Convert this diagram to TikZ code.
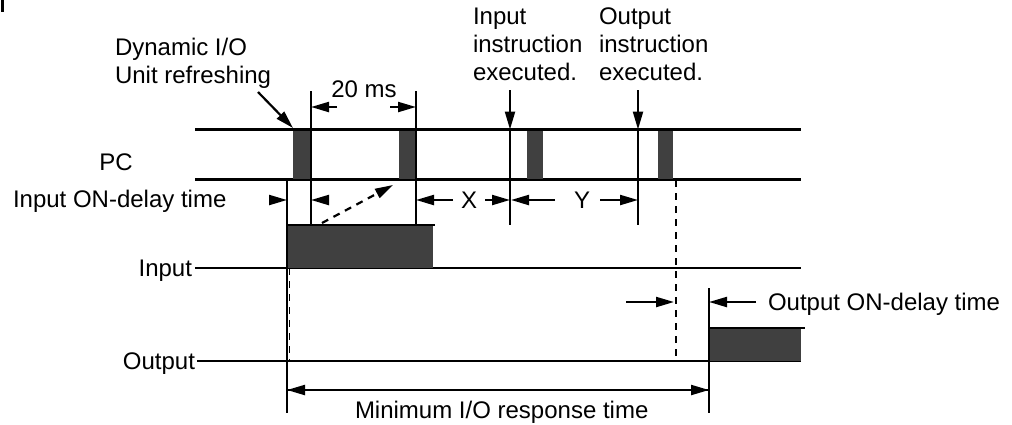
\documentclass[tikz,border=0pt]{standalone}
\usepackage{fontspec}
\setmainfont{Liberation Sans}
\usetikzlibrary{arrows.meta}
\definecolor{blkgray}{HTML}{404040}
\begin{document}
\begin{tikzpicture}[x=1pt, y=-1pt, line width=2.2pt]

    \useasboundingbox (0,0) rectangle (1012,424);

    \tikzset{
        lbl/.style={inner sep=0pt, outer sep=0pt, font=\fontsize{24}{28}\selectfont},
        blk/.style={fill=blkgray, draw=none},
        tip/.style={-{Triangle[length=18pt, width=10pt]}},
        dsh/.style={dash pattern=on 7pt off 6pt}
    }

    % cut-off mark at the corner
    \fill (1,0) rectangle (4,12);

    % signal lines
    \draw (195,129.5) -- (801,129.5);
    \draw (195,179.5) -- (801,179.5);
    \draw (195,268) -- (801,268);
    \draw (197,361) -- (801,361);

    % PC refresh blocks
    \foreach \a/\b in {293/311, 399/416, 527/543, 658/673} {
        \fill[blk] (\a,130.5) rectangle (\b,178.5);
    }

    % input and output pulses
    \fill[blk] (287,225) rectangle (433,268);
    \draw (287,225) -- (435,225);
    \fill[blk] (709,328) rectangle (801,361);
    \draw (709,328) -- (805,328);

    % vertical marks
    \draw (287,180) -- (287,413);
    \foreach \x in {311, 416} {
        \draw (\x,91) -- (\x,225);
    }
    \foreach \x in {510, 638} {
        \draw[tip] (\x,90) -- (\x,129.5);
        \draw (\x,129.5) -- (\x,225);
    }
    \draw (709,288) -- (709,413);
    \draw[dsh] (676,180) -- (676,361);
    \draw[dsh, line width=1.6pt] (289.5,268) -- (289.5,361);

    % labels
    \node[lbl, anchor=north west, align=left] (dyn) at (115,38) {Dynamic I/O\\Unit refreshing};
    \node[lbl, anchor=north west, align=left] (inexe) at (473,8) {Input\\instruction\\executed.};
    \node[lbl, anchor=north west, align=left] (outexe) at (599,8) {Output\\instruction\\executed.};
    \node[lbl] (pc) at (116,162) {PC};
    \node[lbl, anchor=base west] (indly) at (13,207.5) {Input ON-delay time};
    \node[lbl, anchor=base east] (insig) at (192,276) {Input};
    \node[lbl, anchor=base east] (outsig) at (195,369) {Output};
    \node[lbl, anchor=base] (twenty) at (364,97) {20 ms};
    \node[lbl, anchor=base] (xlbl) at (469,208) {X};
    \node[lbl, anchor=base] (ylbl) at (582,208) {Y};
    \node[lbl, anchor=base west] (outdly) at (768,310) {Output ON-delay time};
    \node[lbl, anchor=base west] (minio) at (355,418) {Minimum I/O response time};

    % arrows
    \draw[tip] (258,92) -- (293,128);
    \draw[tip] (337,107) -- (311,107);
    \draw[tip] (390,107) -- (416,107);
    \draw[tip] (271,200) -- (287,200);
    \draw[tip] (328,200) -- (311,200);
    \draw[tip, dsh] (322,223) -- (393,185);
    \draw[tip] (453,200) -- (416,200);
    \draw[tip] (485,200) -- (510,200);
    \draw[tip] (555,200) -- (511,200);
    \draw[tip] (600,200) -- (638,200);
    \draw[tip] (626,302) -- (674,302);
    \draw[tip] (756,302) -- (709,302);
    \draw[tip] (287,390) -- (709,390);
    \draw[tip] (709,390) -- (287,390);

\end{tikzpicture}
\end{document}
